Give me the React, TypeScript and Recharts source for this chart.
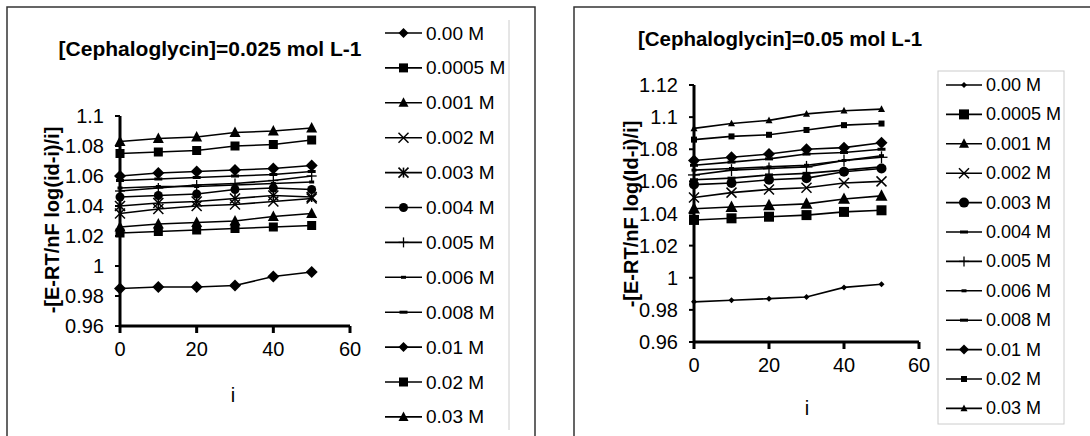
import React from 'react';
import { LineChart, Line, XAxis, YAxis, ReferenceLine } from 'recharts';

const FONT = 'Arial, "Liberation Sans", sans-serif';

// current i values (x axis)
const iValues = [0, 10, 20, 30, 40, 50];

const concLabels = ['0.00 M', '0.0005 M', '0.001 M', '0.002 M', '0.003 M', '0.004 M', '0.005 M', '0.006 M', '0.008 M', '0.01 M', '0.02 M', '0.03 M'];

// [Cephaloglycin] = 0.025 mol L-1
const left000 = [0.985, 0.986, 0.986, 0.987, 0.993, 0.996];
const left0005 = [1.022, 1.023, 1.024, 1.025, 1.026, 1.027];
const left001 = [1.026, 1.028, 1.029, 1.03, 1.033, 1.035];
const left002 = [1.035, 1.038, 1.04, 1.041, 1.043, 1.045];
const left003 = [1.04, 1.042, 1.043, 1.045, 1.047, 1.046];
const left004 = [1.046, 1.047, 1.048, 1.051, 1.052, 1.051];
const left005 = [1.05, 1.052, 1.054, 1.055, 1.057, 1.06];
const left006 = [1.052, 1.053, 1.053, 1.054, 1.055, 1.056];
const left008 = [1.057, 1.058, 1.059, 1.06, 1.061, 1.063];
const left01 = [1.06, 1.062, 1.063, 1.064, 1.065, 1.067];
const left02 = [1.075, 1.076, 1.077, 1.08, 1.081, 1.084];
const left03 = [1.083, 1.085, 1.086, 1.089, 1.09, 1.092];

// [Cephaloglycin] = 0.05 mol L-1
const right000 = [0.985, 0.986, 0.987, 0.988, 0.994, 0.996];
const right0005 = [1.036, 1.037, 1.038, 1.039, 1.041, 1.042];
const right001 = [1.043, 1.044, 1.045, 1.046, 1.049, 1.051];
const right002 = [1.05, 1.053, 1.055, 1.056, 1.059, 1.06];
const right003 = [1.058, 1.059, 1.061, 1.062, 1.066, 1.068];
const right004 = [1.061, 1.062, 1.064, 1.065, 1.067, 1.069];
const right005 = [1.064, 1.067, 1.068, 1.069, 1.073, 1.075];
const right006 = [1.067, 1.068, 1.069, 1.07, 1.073, 1.076];
const right008 = [1.07, 1.072, 1.074, 1.077, 1.078, 1.08];
const right01 = [1.073, 1.075, 1.077, 1.08, 1.081, 1.084];
const right02 = [1.086, 1.088, 1.089, 1.092, 1.095, 1.096];
const right03 = [1.093, 1.096, 1.098, 1.102, 1.104, 1.105];

const leftTicksY = [0.96, 0.98, 1, 1.02, 1.04, 1.06, 1.08, 1.1];
const rightTicksY = [0.96, 0.98, 1, 1.02, 1.04, 1.06, 1.08, 1.1, 1.12];
const ticksX = [0, 20, 40, 60];

const leftSeries = [left000, left0005, left001, left002, left003, left004, left005, left006, left008, left01, left02, left03];
const rightSeries = [right000, right0005, right001, right002, right003, right004, right005, right006, right008, right01, right02, right03];

type Shape = 'diamond' | 'square' | 'triangle' | 'x' | 'star' | 'circle' | 'plus' | 'dash';
type Marker = { shape: Shape; size: number };

const leftMarkers: Marker[] = [
  { shape: 'diamond', size: 6 },
  { shape: 'square', size: 4.5 },
  { shape: 'triangle', size: 5.5 },
  { shape: 'x', size: 5 },
  { shape: 'star', size: 5 },
  { shape: 'circle', size: 4.5 },
  { shape: 'plus', size: 5 },
  { shape: 'dash', size: 2.5 },
  { shape: 'dash', size: 4 },
  { shape: 'diamond', size: 6 },
  { shape: 'square', size: 4.5 },
  { shape: 'triangle', size: 5.5 },
];

const rightMarkers: Marker[] = [
  { shape: 'diamond', size: 3 },
  { shape: 'square', size: 5 },
  { shape: 'triangle', size: 6 },
  { shape: 'x', size: 5 },
  { shape: 'circle', size: 5 },
  { shape: 'dash', size: 4 },
  { shape: 'plus', size: 6 },
  { shape: 'dash', size: 2.5 },
  { shape: 'dash', size: 4 },
  { shape: 'diamond', size: 6 },
  { shape: 'square', size: 3 },
  { shape: 'triangle', size: 3.5 },
];

const buildRows = (series: number[][]) =>
  iValues.map((i, idx) => {
    const row: Record<string, number> = { i };
    series.forEach((s, k) => {
      row[`s${k}`] = s[idx];
    });
    return row;
  });

const leftData = buildRows(leftSeries);
const rightData = buildRows(rightSeries);

function drawMarker(m: Marker, cx: number, cy: number, key?: string) {
  const s = m.size;
  switch (m.shape) {
    case 'diamond':
      return <polygon key={key} points={`${cx},${cy - s} ${cx + s},${cy} ${cx},${cy + s} ${cx - s},${cy}`} fill="#000" />;
    case 'square':
      return <rect key={key} x={cx - s} y={cy - s} width={2 * s} height={2 * s} fill="#000" />;
    case 'triangle':
      return <polygon key={key} points={`${cx},${cy - s * 1.1} ${cx + s},${cy + s * 0.8} ${cx - s},${cy + s * 0.8}`} fill="#000" />;
    case 'x':
      return (
        <g key={key} stroke="#000" strokeWidth={1.5}>
          <line x1={cx - s} y1={cy - s} x2={cx + s} y2={cy + s} />
          <line x1={cx - s} y1={cy + s} x2={cx + s} y2={cy - s} />
        </g>
      );
    case 'star':
      return (
        <g key={key} stroke="#000" strokeWidth={1.6}>
          <line x1={cx - s} y1={cy - s} x2={cx + s} y2={cy + s} />
          <line x1={cx - s} y1={cy + s} x2={cx + s} y2={cy - s} />
          <line x1={cx} y1={cy - s} x2={cx} y2={cy + s} />
        </g>
      );
    case 'circle':
      return <circle key={key} cx={cx} cy={cy} r={s} fill="#000" />;
    case 'plus':
      return (
        <g key={key} stroke="#000" strokeWidth={1.3}>
          <line x1={cx} y1={cy - s} x2={cx} y2={cy + s} />
          <line x1={cx - s} y1={cy} x2={cx + s} y2={cy} />
        </g>
      );
    case 'dash':
    default:
      return <rect key={key} x={cx - s} y={cy - 1.5} width={2 * s} height={3} fill="#000" />;
  }
}

const XTick = (p: any) => (
  <text x={p.x} y={p.y} dy={15} textAnchor="middle" fontSize={20} fontFamily={FONT} fill="#000">
    {p.payload.value}
  </text>
);

const YTick = (p: any) => (
  <text x={p.x} y={p.y} dy={7} textAnchor="end" fontSize={20} fontFamily={FONT} fill="#000">
    {String(p.payload.value)}
  </text>
);

function Panel({ data, markers, ticksY, domainY, margin }: {
  data: Record<string, number>[];
  markers: Marker[];
  ticksY: number[];
  domainY: [number, number];
  margin: { top: number; right: number; bottom: number; left: number };
}) {
  return (
    <LineChart width={545} height={436} data={data} margin={margin}>
      <XAxis
        dataKey="i"
        type="number"
        domain={[0, 60]}
        ticks={ticksX}
        height={30}
        tick={XTick}
        tickSize={7}
        tickMargin={8}
        axisLine={false}
        tickLine={{ stroke: '#000', strokeWidth: 3 }}
      />
      <YAxis
        type="number"
        domain={domainY}
        ticks={ticksY}
        width={60}
        tick={YTick}
        tickSize={5}
        tickMargin={11}
        interval={0}
        axisLine={false}
        tickLine={{ stroke: '#000', strokeWidth: 2 }}
      />
      <ReferenceLine x={0} stroke="#000" strokeWidth={3} ifOverflow="extendDomain" />
      <ReferenceLine y={domainY[0]} stroke="#000" strokeWidth={3} ifOverflow="extendDomain" />
      {markers.map((m, k) => (
        <Line
          key={k}
          dataKey={`s${k}`}
          type="linear"
          stroke="#000"
          strokeWidth={1.6}
          isAnimationActive={false}
          dot={(p: any) => drawMarker(m, p.cx, p.cy, `d${k}-${p.index}`)}
          activeDot={false}
        />
      ))}
    </LineChart>
  );
}

function LegendSvg({ markers, x0, x1, tx, y0, step, fontSize }: {
  markers: Marker[]; x0: number; x1: number; tx: number; y0: number; step: number; fontSize: number;
}) {
  return (
    <g>
      {markers.map((m, k) => {
        const y = y0 + k * step;
        return (
          <g key={k}>
            <line x1={x0} y1={y} x2={x1} y2={y} stroke="#000" strokeWidth={1.6} />
            {drawMarker({ shape: m.shape, size: Math.min(m.size, 5) }, (x0 + x1) / 2, y)}
            <text x={tx} y={y} dominantBaseline="central" fontSize={fontSize} fontFamily={FONT} fill="#000">
              {concLabels[k]}
            </text>
          </g>
        );
      })}
    </g>
  );
}

export default function App() {
  return (
    <div style={{ position: 'relative', width: 1090, height: 436, background: '#fff', overflow: 'hidden' }}>
      <style>{'body{margin:0}'}</style>
      <div style={{ position: 'absolute', left: 0, top: 0 }}>
        <Panel
          data={leftData}
          markers={leftMarkers}
          ticksY={leftTicksY}
          domainY={[0.96, 1.1]}
          margin={{ top: 116, right: 195, bottom: 80, left: 60 }}
        />
      </div>
      <div style={{ position: 'absolute', left: 545, top: 0 }}>
        <Panel
          data={rightData}
          markers={rightMarkers}
          ticksY={rightTicksY}
          domainY={[0.96, 1.12]}
          margin={{ top: 85, right: 171, bottom: 64, left: 89 }}
        />
      </div>
      <svg width={1090} height={436} style={{ position: 'absolute', left: 0, top: 0, pointerEvents: 'none' }}>
        {/* frames */}
        <polyline points="7,440 7,7 535,7 535,440" fill="none" stroke="#333" strokeWidth={1.5} />
        <polyline points="574,440 574,7 1092,7" fill="none" stroke="#333" strokeWidth={1.5} />

        {/* titles */}
        <text x={210} y={48} textAnchor="middle" dominantBaseline="central" fontSize={21} fontWeight="bold" fontFamily={FONT}>
          [Cephaloglycin]=0.025 mol L-1
        </text>
        <text x={780} y={38} textAnchor="middle" dominantBaseline="central" fontSize={20.5} fontWeight="bold" fontFamily={FONT}>
          [Cephaloglycin]=0.05 mol L-1
        </text>

        {/* y-axis titles */}
        <text transform="rotate(-90 52 220)" x={52} y={220} textAnchor="middle" dominantBaseline="central" fontSize={20} fontWeight="bold" fontFamily={FONT}>
          -[E-RT/nF log(id-i)/i]
        </text>
        <text transform="rotate(-90 631 214)" x={631} y={214} textAnchor="middle" dominantBaseline="central" fontSize={20} fontWeight="bold" fontFamily={FONT}>
          -[E-RT/nF log(Id-i)/i]
        </text>

        {/* x-axis titles */}
        <text x={233} y={395} textAnchor="middle" dominantBaseline="central" fontSize={20} fontFamily={FONT}>i</text>
        <text x={807} y={408} textAnchor="middle" dominantBaseline="central" fontSize={20} fontFamily={FONT}>i</text>

        {/* legends */}
        <line x1={509} y1={20} x2={509} y2={430} stroke="#ccc" strokeWidth={1} />
        <LegendSvg markers={leftMarkers} x0={385} x1={422} tx={426} y0={33} step={34.9} fontSize={19} />
        <rect x={938} y={71} width={126} height={353} fill="none" stroke="#ccc" strokeWidth={1} />
        <LegendSvg markers={rightMarkers} x0={946} x1={982} tx={986} y0={85} step={29.4} fontSize={18} />
      </svg>
    </div>
  );
}
